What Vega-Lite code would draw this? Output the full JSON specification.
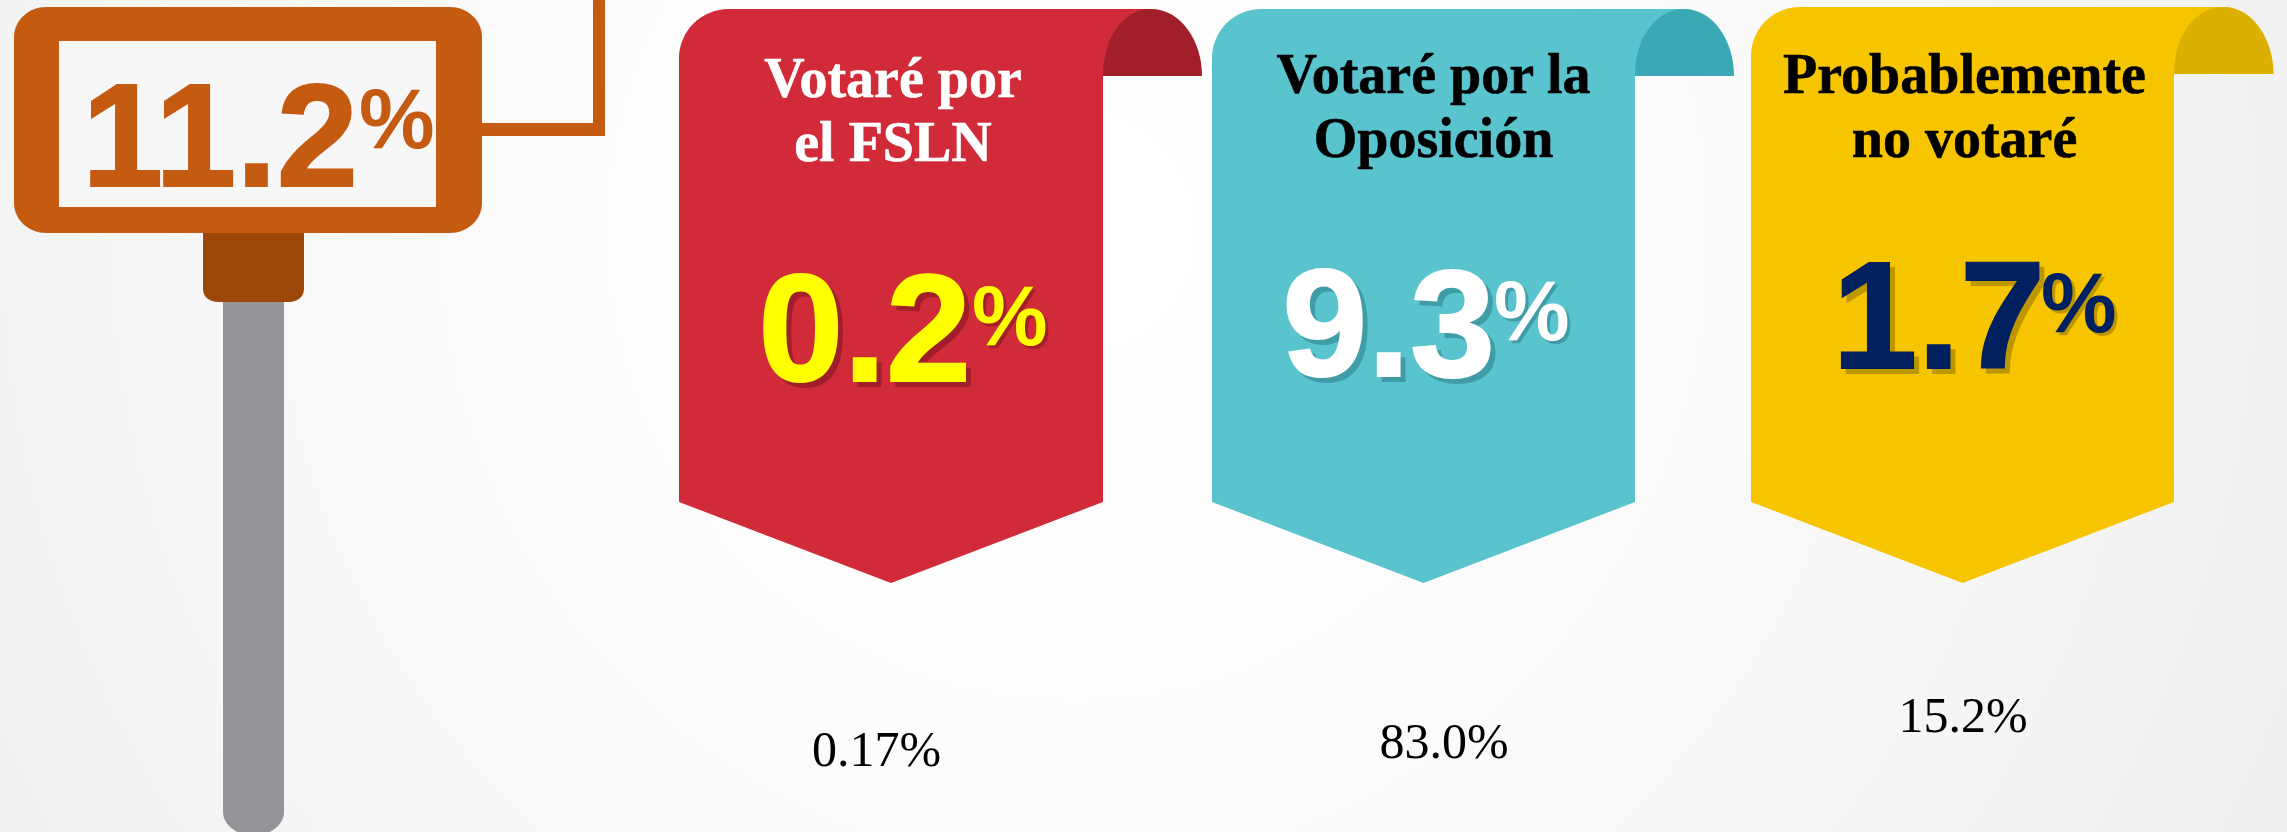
{"$schema":"https://vega.github.io/schema/vega-lite/v6.json","width":2287,"height":832,"padding":0,"autosize":{"type":"none"},"background":"#f5f5f5","view":{"stroke":null,"fill":{"gradient":"radial","x1":0.47,"y1":0.42,"r1":0,"x2":0.47,"y2":0.42,"r2":0.6,"stops":[{"offset":0,"color":"#ffffff"},{"offset":0.3,"color":"#fdfdfd"},{"offset":0.7,"color":"#f6f6f6"},{"offset":1,"color":"#eeeeee"}]}},"data":{"values":[{"orden":1,"grupo":"Total","valor":11.2},{"orden":2,"grupo":"Votaré por el FSLN","linea1":"Votaré por","linea2":"el FSLN","valor":0.2,"pie":"0.17%"},{"orden":3,"grupo":"Votaré por la Oposición","linea1":"Votaré por la","linea2":"Oposición","valor":9.3,"pie":"83.0%"},{"orden":4,"grupo":"Probablemente no votaré","linea1":"Probablemente","linea2":"no votaré","valor":1.7,"pie":"15.2%"}]},"resolve":{"scale":{"x":"independent","y":"independent","color":"independent","shape":"independent","stroke":"independent","size":"independent"}},"layer":[{"transform":[{"filter":"datum.orden == 1"}],"mark":{"type":"point","filled":true,"opacity":1,"size":4000000,"color":"#939598","shape":"M-0.025 -0.12L0.036 -0.12L0.036 0.396C0.036 0.41 0.02 0.42 0.0055 0.42C-0.009 0.42 -0.025 0.41 -0.025 0.396Z"},"encoding":{"x":{"field":"orden","type":"quantitative","axis":null,"scale":{"domain":[1,4],"range":[248,1962.5]}}}},{"transform":[{"filter":"datum.orden == 1"}],"mark":{"type":"point","filled":true,"opacity":1,"size":4000000,"color":"#9a4709","shape":"M-0.045 -0.19L0.056 -0.19L0.056 -0.127C0.056 -0.119 0.049 -0.114 0.041 -0.114L-0.03 -0.114C-0.038 -0.114 -0.045 -0.119 -0.045 -0.127Z"},"encoding":{"x":{"field":"orden","type":"quantitative","axis":null,"scale":{"domain":[1,4],"range":[248,1962.5]}}}},{"transform":[{"filter":"datum.orden == 1"}],"mark":{"type":"point","filled":true,"opacity":1,"size":4000000,"color":"#c55a11","shape":"M0.23 -0.293L0.345 -0.293L0.345 -0.416L0.357 -0.416L0.357 -0.28L0.23 -0.28Z"},"encoding":{"x":{"field":"orden","type":"quantitative","axis":null,"scale":{"domain":[1,4],"range":[248,1962.5]}}}},{"transform":[{"filter":"datum.orden == 1"}],"mark":{"type":"point","filled":true,"opacity":1,"size":4000000,"color":"#c55a11","shape":"M-0.234 -0.379C-0.234 -0.396 -0.219 -0.409 -0.202 -0.409L0.202 -0.409C0.219 -0.409 0.234 -0.396 0.234 -0.379L0.234 -0.213C0.234 -0.196 0.219 -0.183 0.202 -0.183L-0.202 -0.183C-0.219 -0.183 -0.234 -0.196 -0.234 -0.213Z"},"encoding":{"x":{"field":"orden","type":"quantitative","axis":null,"scale":{"domain":[1,4],"range":[248,1962.5]}}}},{"transform":[{"filter":"datum.orden == 1"}],"mark":{"type":"point","filled":true,"opacity":1,"size":4000000,"color":"#f7f7f7","shape":"M-0.189 -0.375L0.188 -0.375L0.188 -0.209L-0.189 -0.209Z"},"encoding":{"x":{"field":"orden","type":"quantitative","axis":null,"scale":{"domain":[1,4],"range":[248,1962.5]}}}},{"transform":[{"filter":"datum.orden > 1"}],"mark":{"type":"point","filled":true,"opacity":1,"size":4000000},"encoding":{"x":{"field":"orden","type":"quantitative","axis":null,"scale":{"domain":[2,3,4],"range":[891,1423.5,1962.5]}},"color":{"field":"orden","type":"nominal","legend":null,"scale":{"domain":[2,3,4],"range":["#d12a38","#59c3ce","#f6c500"]}},"shape":{"field":"orden","type":"nominal","legend":null,"scale":{"domain":[2,3,4],"range":["M-0.212 0.086L-0.212 -0.357C-0.212 -0.385 -0.19 -0.407 -0.162 -0.407L0.26 -0.407L0.212 -0.34L0.212 0.086L0 0.167Z","M-0.2115 0.086L-0.2115 -0.357C-0.2115 -0.385 -0.19 -0.407 -0.162 -0.407L0.26 -0.407L0.2115 -0.34L0.2115 0.086L0 0.167Z","M-0.2115 0.086L-0.2115 -0.359C-0.2115 -0.387 -0.19 -0.409 -0.162 -0.409L0.261 -0.409L0.2115 -0.342L0.2115 0.086L0 0.167Z"]}}}},{"transform":[{"filter":"datum.orden > 1"}],"mark":{"type":"point","filled":true,"opacity":1,"size":4000000},"encoding":{"x":{"field":"orden","type":"quantitative","axis":null,"scale":{"domain":[2,3,4],"range":[891,1423.5,1962.5]}},"color":{"field":"orden","type":"nominal","legend":null,"scale":{"domain":[2,3,4],"range":["#a01f2b","#3aa9b5","#dcb000"]}},"shape":{"field":"orden","type":"nominal","legend":null,"scale":{"domain":[2,3,4],"range":["M0.212 -0.34C0.212 -0.378 0.232 -0.407 0.26 -0.407C0.29 -0.407 0.311 -0.375 0.311 -0.34Z","M0.2115 -0.34C0.2115 -0.378 0.232 -0.407 0.2605 -0.407C0.29 -0.407 0.3105 -0.375 0.3105 -0.34Z","M0.2115 -0.342C0.2115 -0.38 0.232 -0.409 0.2615 -0.409C0.29 -0.409 0.311 -0.377 0.311 -0.342Z"]}}}},{"transform":[{"filter":"datum.orden > 1"}],"mark":{"type":"text","font":"Liberation Sans","fontWeight":"bold","fontSize":153,"align":"right","baseline":"alphabetic","dx":5,"dy":5,"opacity":0.4,"strokeWidth":2},"encoding":{"x":{"field":"orden","type":"quantitative","axis":null,"scale":{"domain":[2,3,4],"range":[971,1495,2045]}},"y":{"field":"orden","type":"quantitative","axis":null,"scale":{"domain":[2,3,4],"range":[381,376,368]}},"text":{"field":"valor","type":"quantitative","format":".1f"},"color":{"field":"orden","type":"nominal","legend":null,"scale":{"domain":[2,3,4],"range":["#5a0f18","#1d6670","#6b5500"]}},"stroke":{"field":"orden","type":"nominal","legend":null,"scale":{"domain":[2,3,4],"range":["#5a0f18","#1d6670","#6b5500"]}}}},{"transform":[{"filter":"datum.orden > 1"}],"mark":{"type":"text","font":"Liberation Sans","fontWeight":"bold","fontSize":85,"align":"left","baseline":"alphabetic","dx":3,"dy":3,"opacity":0.4,"text":"%"},"encoding":{"x":{"field":"orden","type":"quantitative","axis":null,"scale":{"domain":[2,3,4],"range":[972,1494,2041]}},"y":{"field":"orden","type":"quantitative","axis":null,"scale":{"domain":[2,3,4],"range":[345,340,332]}},"color":{"field":"orden","type":"nominal","legend":null,"scale":{"domain":[2,3,4],"range":["#5a0f18","#1d6670","#6b5500"]}}}},{"mark":{"type":"text","font":"Liberation Sans","fontWeight":"bold","align":"right","baseline":"alphabetic","strokeWidth":2},"encoding":{"x":{"field":"orden","type":"quantitative","axis":null,"scale":{"domain":[1,2,3,4],"range":[358,971,1495,2045]}},"y":{"field":"orden","type":"quantitative","axis":null,"scale":{"domain":[1,2,3,4],"range":[186,381,376,368]}},"size":{"field":"orden","type":"quantitative","legend":null,"scale":{"domain":[1,2,4],"range":[146,153,153]}},"text":{"field":"valor","type":"quantitative","format":".1f"},"color":{"field":"orden","type":"nominal","legend":null,"scale":{"domain":[1,2,3,4],"range":["#c55a11","#ffff00","#ffffff","#002060"]}},"stroke":{"field":"orden","type":"nominal","legend":null,"scale":{"domain":[1,2,3,4],"range":["#c55a11","#ffff00","#ffffff","#002060"]}}}},{"mark":{"type":"text","font":"Liberation Sans","fontWeight":"bold","fontSize":85,"align":"left","baseline":"alphabetic","text":"%"},"encoding":{"x":{"field":"orden","type":"quantitative","axis":null,"scale":{"domain":[1,2,3,4],"range":[359,972,1494,2041]}},"y":{"field":"orden","type":"quantitative","axis":null,"scale":{"domain":[1,2,3,4],"range":[148,345,340,332]}},"color":{"field":"orden","type":"nominal","legend":null,"scale":{"domain":[1,2,3,4],"range":["#c55a11","#ffff00","#ffffff","#002060"]}}}},{"transform":[{"filter":"datum.orden > 1"}],"mark":{"type":"text","font":"Liberation Serif","fontWeight":"bold","fontSize":56,"align":"center","baseline":"alphabetic","strokeWidth":0.6},"encoding":{"x":{"field":"orden","type":"quantitative","axis":null,"scale":{"domain":[2,3,4],"range":[893,1433.5,1964.5]}},"y":{"field":"orden","type":"quantitative","axis":null,"scale":{"domain":[2,3,4],"range":[97,93,93]}},"text":{"field":"linea1","type":"nominal"},"color":{"field":"orden","type":"nominal","legend":null,"scale":{"domain":[2,3,4],"range":["#ffffff","#000000","#000000"]}},"stroke":{"field":"orden","type":"nominal","legend":null,"scale":{"domain":[2,3,4],"range":["#ffffff","#000000","#000000"]}}}},{"transform":[{"filter":"datum.orden > 1"}],"mark":{"type":"text","font":"Liberation Serif","fontWeight":"bold","fontSize":56,"align":"center","baseline":"alphabetic","strokeWidth":0.6},"encoding":{"x":{"field":"orden","type":"quantitative","axis":null,"scale":{"domain":[2,3,4],"range":[893,1433.5,1964.5]}},"y":{"field":"orden","type":"quantitative","axis":null,"scale":{"domain":[2,3,4],"range":[161,157,157]}},"text":{"field":"linea2","type":"nominal"},"color":{"field":"orden","type":"nominal","legend":null,"scale":{"domain":[2,3,4],"range":["#ffffff","#000000","#000000"]}},"stroke":{"field":"orden","type":"nominal","legend":null,"scale":{"domain":[2,3,4],"range":["#ffffff","#000000","#000000"]}}}},{"transform":[{"filter":"datum.orden > 1"}],"mark":{"type":"text","font":"Liberation Serif","fontSize":50,"align":"center","baseline":"alphabetic","color":"#000000"},"encoding":{"x":{"field":"orden","type":"quantitative","axis":null,"scale":{"domain":[2,3,4],"range":[876.5,1444,1963]}},"y":{"field":"orden","type":"quantitative","axis":null,"scale":{"domain":[2,3,4],"range":[766,758,732]}},"text":{"field":"pie","type":"nominal"}}}]}
